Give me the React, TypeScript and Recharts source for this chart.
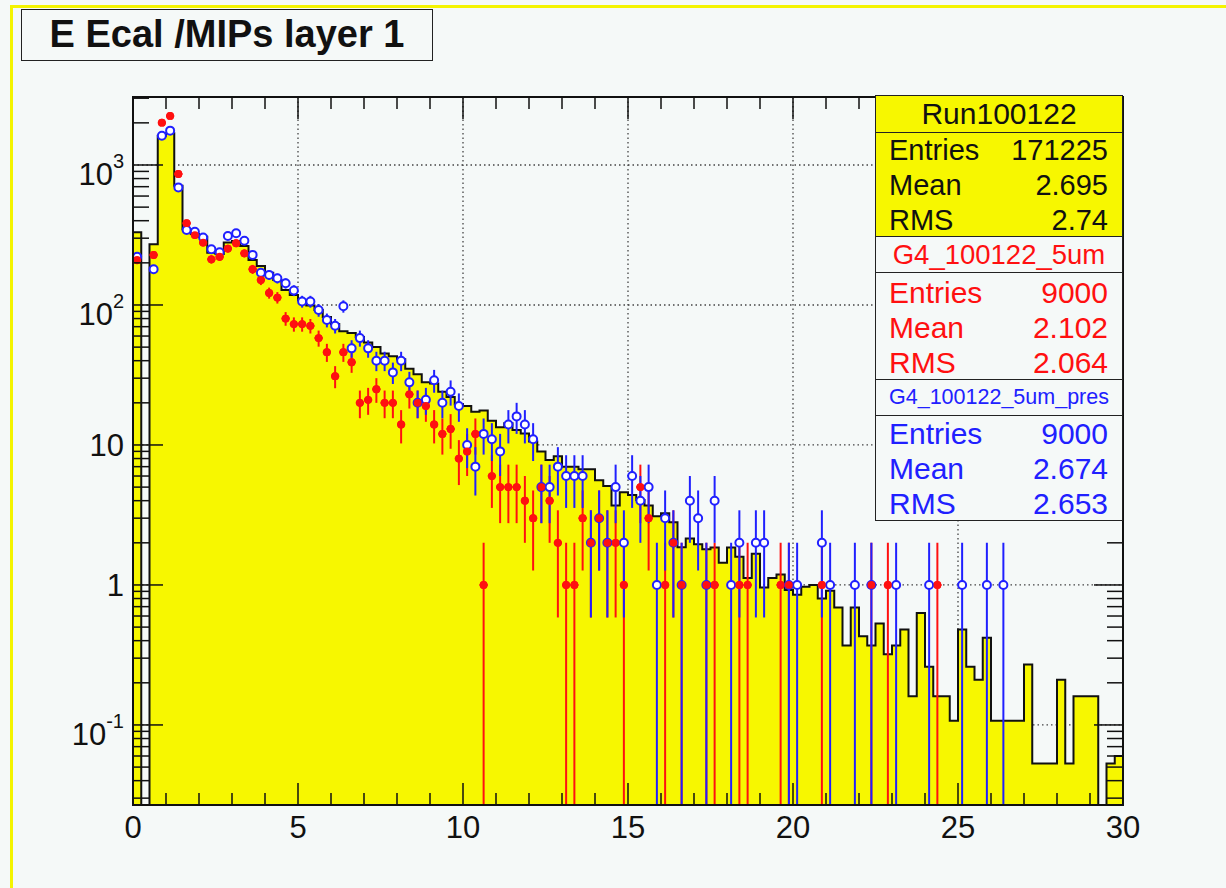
import React from 'react';
import {
  ComposedChart,
  Area,
  Line,
  Scatter,
  ErrorBar,
  XAxis,
  YAxis,
  CartesianGrid,
} from 'recharts';

const FONT = '"Liberation Sans", Arial, Helvetica, sans-serif';
const YELLOW = '#f7f700';
const RED = '#ff1010';
const BLUE = '#2020ff';
const BG = '#f5f9f8';

const BIN_WIDTH = 0.25;
const X_MAX = 30;
const Y_MIN = 0.0268;
const Y_MAX = 3060;

// data (Run100122), 120 bins of 0.25 MIP
const runData = [
  331, 0, 271, 1620, 1685, 711, 347, 321, 307, 236,
  231, 279, 286, 264, 210, 190, 170, 151, 128, 118,
  108, 99, 92, 82, 73, 65, 63, 59, 54, 50,
  45, 43, 41, 35, 32, 28, 27.5, 24, 22, 19.5,
  19, 17.3, 17.6, 14.9, 13.4, 14.3, 12.8, 12.1, 10.6, 9.0,
  7.8, 8.3, 7.0, 7.0, 6.7, 6.7, 5.6, 5.1, 3.7, 4.6,
  4.4, 4.05, 3.7, 3.1, 3.25, 2.8, 1.86, 2.15, 1.95, 1.8,
  1.85, 1.44, 1.85, 1.59, 1.12, 1.67, 0.96, 1.12, 1.19, 0.92,
  0.85, 0.97, 1.0, 0.8, 0.91, 0.69, 0.37, 0.69, 0.43, 0.37,
  0.53, 0.32, 0.37, 0.48, 0.16, 0.63, 0.26, 0.16, 0.16, 0.107,
  0.48, 0.26, 0.21, 0.42, 0.107, 0.107, 0.107, 0.107, 0.27, 0.053,
  0.053, 0.053, 0.21, 0.053, 0.16, 0.16, 0.16, 0, 0.053, 0.06,
];

// G4_100122_5um (red)
const g4Red = [
  210, 0, 228, 2005, 2240, 862, 384, 316, 279, 212,
  221, 253, 276, 234, 180, 151, 122, 113, 80, 73,
  73, 71, 58, 46, 31, 46, 39, 20, 21, 25,
  20, 20, 14, 23, 20, 19, 14, 12, 13, 8,
  9, 12, 1, 6, 5, 5, 5, 4, 3, 5,
  4, 2, 1, 1, 3, 2, 3, 2, 2, 1,
  0, 5, 3, 0, 1, 2, 1, 0, 0, 1,
  1, 0, 0, 1, 1, 0, 0, 0, 1, 1,
  0, 0, 0, 1, 0, 0, 0, 0, 0, 1,
  0, 1, 0, 0, 0, 0, 0, 1, 0, 0,
  0, 0, 0, 0, 0, 0, 0, 0, 0, 0,
  0, 0, 0, 0, 0, 0, 0, 0, 0, 0,
];

// G4_100122_5um_pres (blue)
const g4Blue = [
  221, 0, 180, 1620, 1760, 692, 343, 334, 303, 250,
  238, 311, 325, 288, 228, 170, 164, 155, 143, 127,
  106, 106, 92, 78, 71, 98, 49, 58, 49, 40,
  40, 33, 40, 28, 20, 21, 29, 20, 24, 19,
  10, 7, 12, 11, 9, 14, 16, 14, 11, 5,
  5, 7, 6, 6, 6, 2, 3, 2, 5, 2,
  6, 4, 5, 1, 3, 2, 1, 4, 3, 1,
  4, 0, 1, 2, 0, 2, 2, 0, 0, 1,
  1, 0, 0, 2, 1, 0, 0, 1, 0, 1,
  0, 0, 1, 0, 0, 0, 1, 0, 0, 0,
  1, 0, 0, 1, 0, 1, 0, 0, 0, 0,
  0, 0, 0, 0, 0, 0, 0, 0, 0, 0,
];

const xTicks = [
  0, 1, 2, 3, 4, 5, 6, 7, 8, 9, 10, 11, 12, 13, 14, 15,
  16, 17, 18, 19, 20, 21, 22, 23, 24, 25, 26, 27, 28, 29, 30,
];
const xMajor = [0, 5, 10, 15, 20, 25, 30];
const yDecades = [0.01, 0.1, 1, 10, 100, 1000];
const yGrid = [0.1, 1, 10, 100, 1000];

const yTicks = yDecades
  .flatMap((d) => [1, 2, 3, 4, 5, 6, 7, 8, 9].map((m) => +(d * m).toPrecision(3)))
  .filter((v) => v >= Y_MIN && v <= Y_MAX);

const statsRun = [['Entries', '171225'], ['Mean', '2.695'], ['RMS', '2.74']];
const statsRed = [['Entries', '9000'], ['Mean', '2.102'], ['RMS', '2.064']];
const statsBlue = [['Entries', '9000'], ['Mean', '2.674'], ['RMS', '2.653']];

// histogram as step edges; empty bins drop to the frame bottom
const histRows = runData.map((v, i) => ({ x: i * BIN_WIDTH, h: v > 0 ? v : Y_MIN }));
histRows.push({ x: X_MAX, h: histRows[histRows.length - 1].h });

const toPoints = (vals: number[]) =>
  vals.flatMap((v, i) =>
    v > 0
      ? [
          {
            x: (i + 0.5) * BIN_WIDTH,
            y: v,
            ex: BIN_WIDTH / 2,
            ey: [v - Math.max(v - Math.sqrt(v), Y_MIN), Math.sqrt(v)],
          },
        ]
      : []
  );

const redPoints = toPoints(g4Red);
const bluePoints = toPoints(g4Blue);

const isDecade = (v: number) => Math.abs(Math.log10(v) - Math.round(Math.log10(v))) < 1e-6;

const YLabel = ({ x, y, v }: any) => {
  const e = Math.round(Math.log10(v));
  const style = { fontFamily: FONT, fill: '#111' };
  if (e === 0 || e === 1) {
    return (
      <text x={x} y={y + 11} textAnchor="end" fontSize={31} style={style}>
        {e === 0 ? '1' : '10'}
      </text>
    );
  }
  return (
    <text x={x} y={y + 20} textAnchor="end" fontSize={31} style={style}>
      10
      <tspan dy={-17} fontSize={20}>
        {e}
      </tspan>
    </text>
  );
};

const LeftTick = (props: any) => {
  const { x, y, payload } = props;
  const major = isDecade(payload.value);
  return (
    <g>
      <line x1={x} x2={x + (major ? 30 : 16)} y1={y} y2={y} stroke="#111" strokeWidth={1.5} />
      {major && <YLabel x={x - 9} y={y} v={payload.value} />}
    </g>
  );
};

const RightTick = (props: any) => {
  const { x, y, payload } = props;
  const major = isDecade(payload.value);
  return <line x1={x} x2={x - (major ? 29 : 16)} y1={y} y2={y} stroke="#111" strokeWidth={1.5} />;
};

const BottomTick = (props: any) => {
  const { x, y, payload } = props;
  const major = xMajor.includes(payload.value);
  return (
    <g>
      <line x1={x} x2={x} y1={y} y2={y - (major ? 22 : 12)} stroke="#111" strokeWidth={1.5} />
      {major && (
        <text x={x} y={y + 33} textAnchor="middle" fontSize={31} style={{ fontFamily: FONT, fill: '#111' }}>
          {payload.value}
        </text>
      )}
    </g>
  );
};

const TopTick = (props: any) => {
  const { x, y, payload } = props;
  const major = xMajor.includes(payload.value);
  return <line x1={x} x2={x} y1={y} y2={y + (major ? 22 : 12)} stroke="#111" strokeWidth={1.5} />;
};

const RedDot = (p: any) => <circle cx={p.cx} cy={p.cy} r={3.9} fill={RED} />;
const BlueRing = (p: any) => (
  <circle cx={p.cx} cy={p.cy} r={4} fill="#ffffff" stroke={BLUE} strokeWidth={2} />
);

const StatRows = ({ rows, color, size, pad }: any) => (
  <div style={{ paddingTop: pad }}>
    {rows.map(([k, v]: string[]) => (
      <div
        key={k}
        style={{
          display: 'flex',
          justifyContent: 'space-between',
          height: 35,
          lineHeight: '35px',
          padding: '0 14px 0 13px',
          color,
          fontSize: size,
        }}
      >
        <span>{k}</span>
        <span>{v}</span>
      </div>
    ))}
  </div>
);

const box = (top: number, height: number, bg: string): React.CSSProperties => ({
  position: 'absolute',
  left: 875,
  top,
  width: 248,
  height,
  boxSizing: 'border-box',
  border: '1.5px solid #222',
  background: bg,
  fontFamily: FONT,
});

export default function App() {
  return (
    <div
      style={{
        position: 'absolute',
        left: 0,
        top: 0,
        width: 1226,
        height: 888,
        background: BG,
        overflow: 'hidden',
        fontFamily: FONT,
      }}
    >
      {/* canvas border */}
      <div style={{ position: 'absolute', left: 10, top: 5, width: 3, height: 883, background: '#f4f400' }} />
      <div style={{ position: 'absolute', left: 10, top: 5, width: 1216, height: 3, background: '#f4f400' }} />

      <div style={{ position: 'absolute', left: 0, top: 0 }}>
        <ComposedChart
          width={1226}
          height={888}
          data={histRows}
          margin={{ top: 95, right: 100, bottom: 23, left: 0 }}
        >
          <CartesianGrid
            xAxisId="b"
            yAxisId="l"
            horizontalValues={yGrid}
            verticalValues={[5, 10, 15, 20, 25]}
            stroke="#444"
            strokeDasharray="1.5 3"
            strokeWidth={1.3}
          />
          <XAxis
            xAxisId="b"
            dataKey="x"
            type="number"
            domain={[0, X_MAX]}
            ticks={xTicks}
            interval={0}
            height={60}
            axisLine={false}
            tickLine={false}
            tickSize={0}
            tickMargin={0}
            tick={<BottomTick />}
            allowDataOverflow
          />
          <XAxis
            xAxisId="t"
            orientation="top"
            dataKey="x"
            type="number"
            domain={[0, X_MAX]}
            ticks={xTicks}
            interval={0}
            height={2}
            axisLine={false}
            tickLine={false}
            tickSize={0}
            tickMargin={0}
            tick={<TopTick />}
            allowDataOverflow
          />
          <YAxis
            yAxisId="l"
            type="number"
            scale="log"
            domain={[Y_MIN, Y_MAX]}
            ticks={yTicks}
            interval={0}
            width={133}
            axisLine={false}
            tickLine={false}
            tickSize={0}
            tickMargin={0}
            tick={<LeftTick />}
            allowDataOverflow
          />
          <YAxis
            yAxisId="r"
            orientation="right"
            type="number"
            scale="log"
            domain={[Y_MIN, Y_MAX]}
            ticks={yTicks}
            interval={0}
            width={3}
            axisLine={false}
            tickLine={false}
            tickSize={0}
            tickMargin={0}
            tick={<RightTick />}
            allowDataOverflow
          />

          <Area
            xAxisId="b"
            yAxisId="l"
            dataKey="h"
            type="stepAfter"
            baseValue={Y_MIN}
            fill={YELLOW}
            fillOpacity={1}
            stroke="#111"
            strokeWidth={2}
            isAnimationActive={false}
          />
          <Line
            xAxisId="t"
            yAxisId="r"
            dataKey="h"
            stroke="none"
            dot={false}
            activeDot={false}
            isAnimationActive={false}
          />

          <Scatter
            xAxisId="b"
            yAxisId="l"
            data={redPoints}
            dataKey="y"
            shape={RedDot}
            isAnimationActive={false}
          >
            <ErrorBar dataKey="ey" direction="y" width={0} stroke={RED} strokeWidth={2} isAnimationActive={false} />
            <ErrorBar dataKey="ex" direction="x" width={0} stroke={RED} strokeWidth={2} isAnimationActive={false} />
          </Scatter>
          <Scatter
            xAxisId="b"
            yAxisId="l"
            data={bluePoints}
            dataKey="y"
            shape={BlueRing}
            isAnimationActive={false}
          >
            <ErrorBar dataKey="ey" direction="y" width={0} stroke={BLUE} strokeWidth={2} isAnimationActive={false} />
            <ErrorBar dataKey="ex" direction="x" width={0} stroke={BLUE} strokeWidth={2} isAnimationActive={false} />
          </Scatter>
          <Scatter
            xAxisId="b"
            yAxisId="l"
            data={redPoints}
            dataKey="y"
            shape={RedDot}
            isAnimationActive={false}
          />
        </ComposedChart>
      </div>

      {/* frame */}
      <div
        style={{
          position: 'absolute',
          left: 132,
          top: 96,
          width: 992,
          height: 710,
          boxSizing: 'border-box',
          border: '2px solid #111',
          pointerEvents: 'none',
        }}
      />

      {/* title */}
      <div
        style={{
          position: 'absolute',
          left: 21,
          top: 9,
          width: 412,
          height: 52,
          boxSizing: 'border-box',
          border: '1.5px solid #222',
          background: BG,
          textAlign: 'center',
          fontWeight: 'bold',
          fontSize: 38,
          lineHeight: '49px',
          color: '#111',
        }}
      >
        E Ecal /MIPs layer 1
      </div>

      {/* stats boxes */}
      <div style={{ ...box(95, 38, YELLOW), textAlign: 'center', fontSize: 30, lineHeight: '35px', color: '#111' }}>
        Run100122
      </div>
      <div style={box(131.5, 105, YELLOW)}>
        <StatRows rows={statsRun} color="#111" size={29} pad={0} />
      </div>
      <div style={{ ...box(235.5, 37.5, BG), textAlign: 'center', fontSize: 27.5, lineHeight: '35px', color: RED }}>
        G4_100122_5um
      </div>
      <div style={box(271.5, 109, BG)}>
        <StatRows rows={statsRed} color={RED} size={30} pad={2} />
      </div>
      <div style={{ ...box(379, 37.5, BG), textAlign: 'center', fontSize: 21.5, lineHeight: '35px', color: BLUE }}>
        G4_100122_5um_pres
      </div>
      <div style={box(415, 106, BG)}>
        <StatRows rows={statsBlue} color={BLUE} size={30} pad={0} />
      </div>
    </div>
  );
}
